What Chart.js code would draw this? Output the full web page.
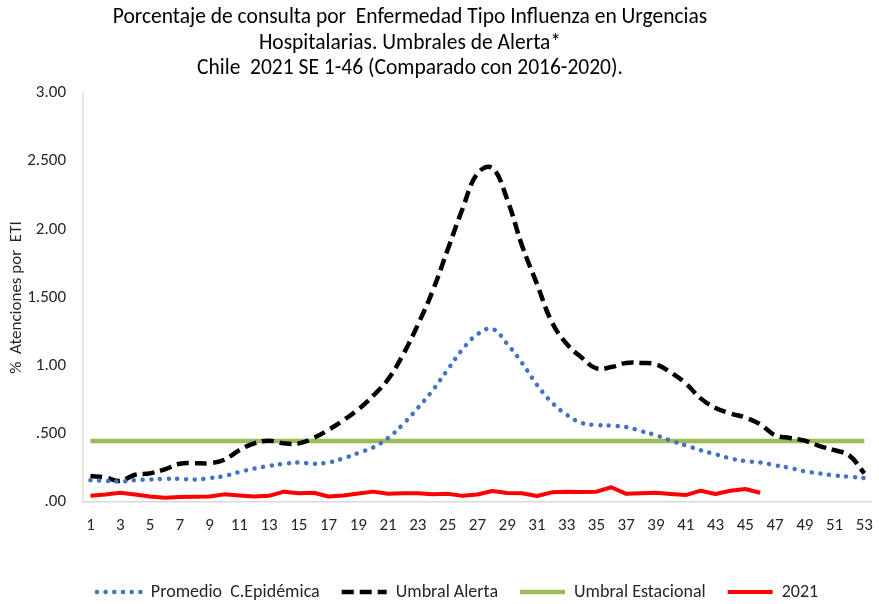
<!DOCTYPE html>
<html>
<head>
<meta charset="utf-8">
<script src="https://cdn.jsdelivr.net/npm/chart.js@4/dist/chart.umd.min.js"></script>
<style>
  html, body { margin: 0; padding: 0; background: #fff; }
  #wrap { position: relative; width: 879px; height: 604px; }
  #title { position: absolute; left: 0; top: 4px; width: 820px; text-align: center;
           font-family: Carlito, Lato, sans-serif; font-size: 21.5px; line-height: 25.5px;
           color: #000; white-space: pre; }
  canvas { position: absolute; left: 0; top: 0; }
</style>
</head>
<body>
<div id="wrap">
  <canvas id="c" width="879" height="604"></canvas>
  <div id="title">Porcentaje de consulta por  Enfermedad Tipo Influenza en Urgencias
Hospitalarias. Umbrales de Alerta*
Chile  2021 SE 1-46 (Comparado con 2016-2020).</div>
</div>
<script>
const weeks = [1,2,3,4,5,6,7,8,9,10,11,12,13,14,15,16,17,18,19,20,21,22,23,24,25,26,27,28,29,30,31,32,33,34,35,36,37,38,39,40,41,42,43,44,45,46,47,48,49,50,51,52,53];

const promedio = [0.16,0.155,0.15,0.16,0.165,0.17,0.17,0.165,0.175,0.19,
                  0.22,0.245,0.265,0.28,0.29,0.28,0.29,0.32,0.36,0.40,
                  0.47,0.57,0.69,0.82,0.97,1.12,1.23,1.27,1.16,1.02,
                  0.86,0.73,0.64,0.58,0.565,0.56,0.55,0.52,0.49,0.45,
                  0.415,0.38,0.35,0.32,0.30,0.29,0.27,0.25,0.225,0.21,
                  0.195,0.185,0.175];

const umbralAlerta = [0.19,0.18,0.155,0.20,0.21,0.24,0.28,0.285,0.285,0.31,
                      0.38,0.43,0.45,0.43,0.43,0.47,0.53,0.60,0.68,0.78,
                      0.90,1.08,1.30,1.55,1.85,2.15,2.41,2.45,2.22,1.88,
                      1.60,1.32,1.16,1.06,0.98,0.99,1.02,1.02,1.01,0.95,
                      0.87,0.76,0.69,0.65,0.62,0.57,0.49,0.47,0.45,0.41,
                      0.38,0.34,0.21];

const umbralEstacional = [0.447,0.447,0.447,0.447,0.447,0.447,0.447,0.447,0.447,0.447,
                          0.447,0.447,0.447,0.447,0.447,0.447,0.447,0.447,0.447,0.447,
                          0.447,0.447,0.447,0.447,0.447,0.447,0.447,0.447,0.447,0.447,
                          0.447,0.447,0.447,0.447,0.447,0.447,0.447,0.447,0.447,0.447,
                          0.447,0.447,0.447,0.447,0.447,0.447,0.447,0.447,0.447,0.447,
                          0.447,0.447,0.447];

const y2021 = [0.046,0.055,0.068,0.055,0.04,0.032,0.036,0.038,0.04,0.056,
               0.048,0.04,0.045,0.076,0.064,0.068,0.04,0.048,0.062,0.076,
               0.06,0.064,0.064,0.056,0.06,0.045,0.055,0.081,0.066,0.064,
               0.044,0.071,0.076,0.074,0.076,0.108,0.06,0.064,0.068,0.059,
               0.051,0.083,0.059,0.083,0.095,0.068];

const yTickLabels = ['.00','.500','1.00','1.500','2.00','2.500','3.00'];

const FONT = 'Carlito, Lato, sans-serif';
const TXT = '#262626';
Chart.defaults.font.family = FONT;
Chart.defaults.color = TXT;

const shiftLegend = {
  id: 'shiftLegend',
  afterLayout: function(chart) {
    if (chart.legend) { chart.legend.left += 20; chart.legend.right += 20; }
  }
};

new Chart(document.getElementById('c'), {
  type: 'line',
  data: {
    labels: weeks,
    datasets: [
      { label: 'Promedio  C.Epidémica', data: promedio, borderColor: '#4472C4', backgroundColor: '#4472C4',
        borderWidth: 4.5, borderDash: [0.1, 8.6], borderCapStyle: 'round', tension: 0.4, pointRadius: 0, fill: false },
      { label: 'Umbral Alerta', data: umbralAlerta, borderColor: '#000000', backgroundColor: '#000000',
        borderWidth: 4.5, borderDash: [12, 6], borderCapStyle: 'butt', tension: 0.4, pointRadius: 0, fill: false },
      { label: 'Umbral Estacional', data: umbralEstacional, borderColor: '#9BBB59', backgroundColor: '#9BBB59',
        borderWidth: 4.5, tension: 0, pointRadius: 0, fill: false },
      { label: '2021', data: y2021, borderColor: '#FF0000', backgroundColor: '#FF0000',
        borderWidth: 4, tension: 0, pointRadius: 0, fill: false, borderJoinStyle: 'round' }
    ]
  },
  plugins: [shiftLegend],
  options: {
    responsive: false,
    animation: false,
    devicePixelRatio: 1,
    layout: { padding: { top: 93, right: 4, bottom: -7, left: 0 } },
    plugins: {
      title: { display: false },
      tooltip: { enabled: false },
      legend: {
        position: 'bottom',
        labels: {
          usePointStyle: true, pointStyle: 'line', pointStyleWidth: 45,
          padding: 22, font: { size: 18, family: FONT }, color: TXT,
          generateLabels: function(chart) {
            return chart.data.datasets.map(function(ds, i) {
              return {
                text: ds.label, fillStyle: ds.borderColor, strokeStyle: ds.borderColor,
                lineWidth: ds.borderWidth, lineDash: ds.borderDash || [], lineCap: ds.borderCapStyle || 'butt',
                pointStyle: 'line', hidden: false, datasetIndex: i, fontColor: TXT
              };
            });
          }
        }
      }
    },
    scales: {
      x: {
        type: 'category',
        offset: true,
        grid: { display: false },
        border: { display: true, color: '#d9d9d9', width: 1.5 },
        ticks: {
          autoSkip: false, maxRotation: 0, padding: 6,
          font: { size: 17, family: FONT }, color: TXT,
          callback: function(v, i) { return i % 2 === 0 ? this.getLabelForValue(v) : ''; }
        },
        afterFit: function(s) { s.height = 59; }
      },
      y: {
        min: 0, max: 3,
        grid: { display: false },
        border: { display: true, color: '#e3ddd3', width: 1.5 },
        ticks: {
          stepSize: 0.5, padding: 9,
          font: { size: 17, family: FONT }, color: TXT,
          callback: function(v, i) { return yTickLabels[i]; }
        },
        title: { display: true, text: '%  Atenciones por  ETI', font: { size: 17, family: FONT }, color: TXT, padding: { top: 7, bottom: 0 } },
        afterFit: function(s) { s.width = 83; }
      }
    }
  }
});
</script>
</body>
</html>
